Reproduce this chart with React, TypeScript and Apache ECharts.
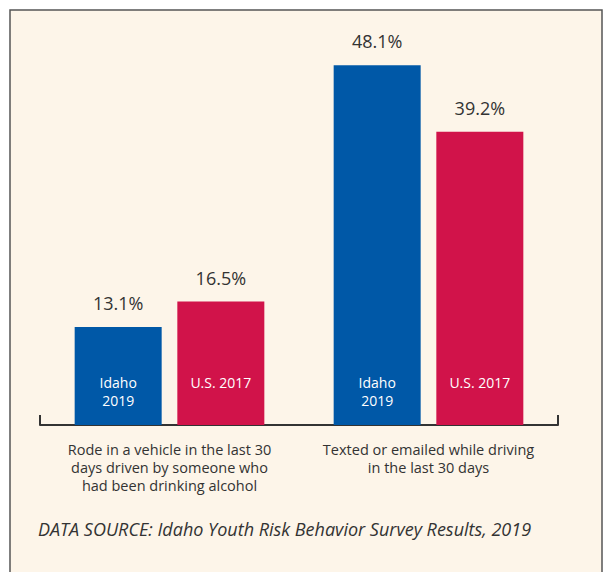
import React, { useEffect, useRef } from "react";
import * as echarts from "echarts";

const categories = [
  "Rode in a vehicle in the last 30\ndays driven by someone who\nhad been drinking alcohol",
  "Texted or emailed while driving\nin the last 30 days",
];
const idahoValues = [13.1, 48.1];
const usValues = [16.5, 39.2];
const idahoName = "Idaho\n2019";
const usName = "U.S. 2017";
const sourceText = "DATA SOURCE: Idaho Youth Risk Behavior Survey Results, 2019";

const BLUE = "#0058A7";
const RED = "#D1134A";
const CREAM = "#FDF5E9";
const TEXT = "#333333";
const FONT = "'Open Sans', Lato, sans-serif";

export default function App() {
  const ref = useRef<HTMLDivElement>(null);
  useEffect(() => {
    if (!ref.current) return;
    const chart = echarts.init(ref.current, undefined, { renderer: "svg" });
    const zeros = categories.map(() => 0);
    const insideLabel = (text: string) => ({
      show: true,
      position: "insideBottom",
      distance: 52,
      verticalAlign: "top",
      formatter: () => text,
      color: "#ffffff",
      fontSize: 14,
      lineHeight: 18,
      fontFamily: FONT,
    });
    const topLabel = (vals: number[]) => ({
      show: true,
      position: "top",
      distance: 15,
      formatter: (p: any) => vals[p.dataIndex].toFixed(1) + "%",
      color: TEXT,
      fontSize: 18,
      fontFamily: FONT,
    });
    chart.setOption({
      animation: false,
      backgroundColor: "#ffffff",
      graphic: [
        {
          type: "rect",
          z: -10,
          shape: { x: 10, y: 10, width: 592, height: 580 },
          style: { fill: CREAM, stroke: "#555555", lineWidth: 1.5 },
        },
        {
          type: "text",
          left: 38,
          top: 520,
          style: {
            text: sourceText,
            fill: TEXT,
            fontSize: 18,
            fontStyle: "italic",
            fontFamily: FONT,
          },
        },
      ],
      grid: { left: 40, right: 48, top: 51, bottom: 147, containLabel: false },
      xAxis: {
        type: "category",
        data: categories,
        boundaryGap: true,
        axisLine: { show: true, lineStyle: { color: TEXT, width: 2 } },
        axisTick: {
          show: true,
          inside: true,
          length: 10,
          lineStyle: { color: TEXT, width: 2 },
          interval: (index: number) => index !== 1,
        },
        axisLabel: {
          color: TEXT,
          fontSize: 14.5,
          lineHeight: 18,
          margin: 15,
          fontFamily: FONT,
          interval: 0,
        },
      },
      yAxis: {
        type: "value",
        min: 0,
        max: 50,
        show: false,
        splitLine: { show: false },
      },
      series: [
        {
          name: "Idaho 2019",
          type: "bar",
          stack: "idaho",
          data: idahoValues,
          barWidth: 87,
          barGap: "18%",
          itemStyle: { color: BLUE },
          label: insideLabel(idahoName),
        },
        {
          name: "Idaho 2019 value",
          type: "bar",
          stack: "idaho",
          data: zeros,
          barWidth: 87,
          barGap: "18%",
          itemStyle: { color: BLUE },
          label: topLabel(idahoValues),
        },
        {
          name: "U.S. 2017",
          type: "bar",
          stack: "us",
          data: usValues,
          barWidth: 87,
          barGap: "18%",
          itemStyle: { color: RED },
          label: insideLabel(usName),
        },
        {
          name: "U.S. 2017 value",
          type: "bar",
          stack: "us",
          data: zeros,
          barWidth: 87,
          barGap: "18%",
          itemStyle: { color: RED },
          label: topLabel(usValues),
        },
      ],
    });
    return () => chart.dispose();
  }, []);
  return (
    <div
      ref={ref}
      style={{ position: "absolute", left: 0, top: 0, width: 606, height: 572 }}
    />
  );
}
